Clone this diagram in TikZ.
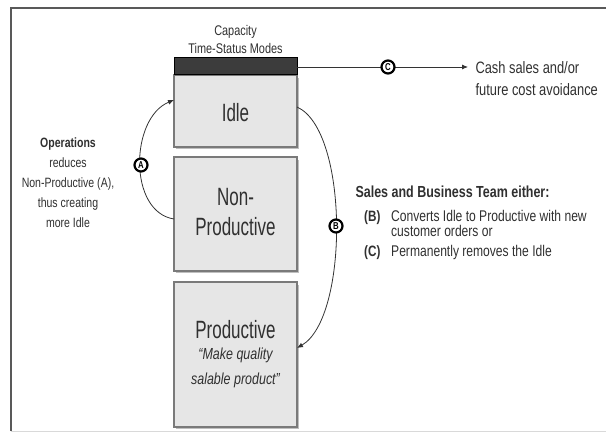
\documentclass[tikz,border=0pt]{standalone}
\usepackage{fontspec}
\setmainfont{Liberation Sans}[FakeStretch=0.78]
\newfontfamily\bigfont{Liberation Sans}[FakeStretch=0.68]
\usetikzlibrary{arrows.meta}
\definecolor{boxfill}{HTML}{E6E6E6}
\definecolor{boxline}{HTML}{7A7A7A}
\definecolor{txt}{HTML}{303030}
\definecolor{barc}{HTML}{3C3C3C}
\tikzset{
  x=1pt, y=-1pt,
  modebox/.style={draw=boxline, line width=1.2pt, fill=boxfill},
  lbl/.style={circle, draw=black, line width=2.2pt, fill=white, inner sep=0pt, minimum size=13pt, font=\bfseries\fontsize{10}{10}\selectfont, text=black},
  conn/.style={draw=black!80, line width=0.8pt, -{Latex[length=6pt,width=5pt]}},
  note/.style={text=txt, align=center, font=\fontsize{13}{17}\selectfont},
  big/.style={text=txt, align=center, font=\bigfont\fontsize{25}{30}\selectfont},
  item/.style={text=txt, anchor=base west, inner sep=0pt, font=\fontsize{15.5}{15}\selectfont},
  itemkey/.style={text=txt, anchor=base west, inner sep=0pt, font=\bfseries\fontsize{15}{15}\selectfont}
}
\begin{document}
\begin{tikzpicture}
\useasboundingbox (0,0) rectangle (606,433);
% frame
\draw[gray!70!black, line width=1.6pt] (11,431) -- (11,8) -- (612,8);
\draw[gray!30, line width=0.8pt] (11,431) -- (612,431);
% boxes
\fill[black!25] (176,78) rectangle (299,149);
\fill[black!25] (176,160) rectangle (299,273);
\fill[black!25] (176,285) rectangle (299,429);
\draw[modebox] (174,75) rectangle (297,147);
\draw[modebox] (174,157) rectangle (297,271);
\draw[modebox] (174,282) rectangle (297,427);
\draw[fill=barc, draw=black, line width=1pt] (174,58) rectangle (297,75);
\coordinate (bar) at (297,67);
\node[big] (idle) at (235.5,113) {Idle};
\node[big] (nonprod) at (235.5,212) {Non-\\Productive};
\node[big] (prod) at (235.5,330) {Productive};
\node[text=txt, align=center, font=\itshape\fontsize{16}{25}\selectfont] (quote) at (235.5,368) {\textquotedblleft Make quality\\salable product\textquotedblright};
\node[text=txt, align=center, font=\fontsize{14}{18}\selectfont] (cap) at (235.5,39) {Capacity\\Time-Status Modes};
% C arrow
\coordinate (cend) at (468,67);
\draw[conn] (bar) -- (cend);
\node[lbl] (c) at (388,67) {C};
\node[note, align=left, anchor=west, font=\fontsize{16.5}{22}\selectfont] (cash) at (472,79) {Cash sales and/or\\future cost avoidance};
% A arc
\coordinate (a0) at (174,219);
\coordinate (a1) at (174,100);
\draw[conn] (a0) .. controls (128,212) and (130,118) .. (a1);
\node[lbl] (a) at (141,165) {A};
% B arc
\coordinate (b0) at (297,107);
\coordinate (b1) at (297,348);
\draw[conn] (b0) .. controls (349,130) and (349,318) .. (b1);
\node[lbl] (b) at (336,226) {B};
% left text
\node[note, font=\fontsize{13.5}{20}\selectfont] (ops) at (68,183) {\textbf{Operations}\\reduces\\Non-Productive (A),\\thus creating\\more Idle};
% right text
\node[text=txt, anchor=west, font=\bfseries\fontsize{16}{17}\selectfont] (team) at (352,192) {Sales and Business Team either:};
\node[itemkey] (bb) at (364,222) {(B)};
\node[item] (conv1) at (391,222) {Converts Idle to Productive with new};
\node[item] (conv2) at (391,237) {customer orders or};
\node[itemkey] (cc) at (364,257) {(C)};
\node[item] (perm) at (391,257) {Permanently removes the Idle};
\end{tikzpicture}
\end{document}
